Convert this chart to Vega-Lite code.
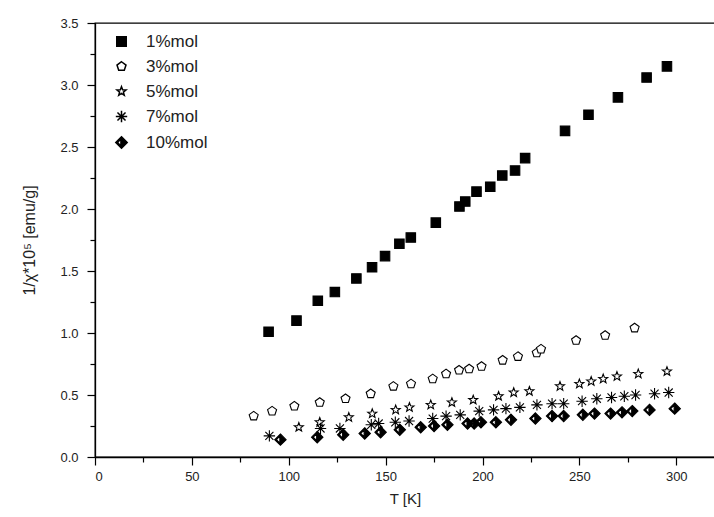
{
  "$schema": "https://vega.github.io/schema/vega-lite/v6.json",
  "autosize": {"type": "none"},
  "padding": {"left": 95, "top": 23, "right": 0, "bottom": 60},
  "width": 620,
  "height": 434,
  "background": "white",
  "config": {
    "view": {"stroke": "black", "strokeWidth": 1.3},
    "font": "Liberation Sans",
    "axis": {
      "tickSize": 8, "domainColor": "black", "domainWidth": 1.3, "tickColor": "black", "tickWidth": 1.2,
      "labelColor": "#222", "titleColor": "#222", "labelFont": "Liberation Sans", "titleFont": "Liberation Sans",
      "labelFontSize": 13, "titleFontSize": 15, "titleFontWeight": "normal", "grid": false, "labelOverlap": false
    },
    "style": {"minorTicks": {"tickSize": 5}}
  },
  "datasets": {
    "pts": [
      {"s": "1%mol", "T": 89.6, "v": 1.01}, {"s": "1%mol", "T": 104, "v": 1.10}, {"s": "1%mol", "T": 115, "v": 1.26},
      {"s": "1%mol", "T": 123.8, "v": 1.33}, {"s": "1%mol", "T": 134.9, "v": 1.44}, {"s": "1%mol", "T": 143, "v": 1.53},
      {"s": "1%mol", "T": 149.7, "v": 1.62}, {"s": "1%mol", "T": 157.1, "v": 1.72}, {"s": "1%mol", "T": 163, "v": 1.77},
      {"s": "1%mol", "T": 175.9, "v": 1.89}, {"s": "1%mol", "T": 188.1, "v": 2.02}, {"s": "1%mol", "T": 191.1, "v": 2.06},
      {"s": "1%mol", "T": 196.9, "v": 2.14}, {"s": "1%mol", "T": 204, "v": 2.18}, {"s": "1%mol", "T": 210.2, "v": 2.27},
      {"s": "1%mol", "T": 216.8, "v": 2.31}, {"s": "1%mol", "T": 222, "v": 2.41}, {"s": "1%mol", "T": 242.6, "v": 2.63},
      {"s": "1%mol", "T": 254.7, "v": 2.76}, {"s": "1%mol", "T": 269.9, "v": 2.90}, {"s": "1%mol", "T": 284.7, "v": 3.06},
      {"s": "1%mol", "T": 295.2, "v": 3.15},
      {"s": "3%mol", "T": 81.9, "v": 0.33}, {"s": "3%mol", "T": 91.4, "v": 0.37}, {"s": "3%mol", "T": 102.9, "v": 0.41},
      {"s": "3%mol", "T": 116, "v": 0.44}, {"s": "3%mol", "T": 129.3, "v": 0.47}, {"s": "3%mol", "T": 142.3, "v": 0.51},
      {"s": "3%mol", "T": 154, "v": 0.57}, {"s": "3%mol", "T": 163.1, "v": 0.59}, {"s": "3%mol", "T": 174.3, "v": 0.63},
      {"s": "3%mol", "T": 181.2, "v": 0.67}, {"s": "3%mol", "T": 187.9, "v": 0.70}, {"s": "3%mol", "T": 193.1, "v": 0.71},
      {"s": "3%mol", "T": 199.5, "v": 0.73}, {"s": "3%mol", "T": 210.4, "v": 0.78}, {"s": "3%mol", "T": 218.3, "v": 0.81},
      {"s": "3%mol", "T": 228, "v": 0.84}, {"s": "3%mol", "T": 230.2, "v": 0.87}, {"s": "3%mol", "T": 248.3, "v": 0.94},
      {"s": "3%mol", "T": 263.3, "v": 0.98}, {"s": "3%mol", "T": 278.5, "v": 1.04},
      {"s": "5%mol", "T": 105.2, "v": 0.24}, {"s": "5%mol", "T": 116, "v": 0.28}, {"s": "5%mol", "T": 131, "v": 0.32},
      {"s": "5%mol", "T": 143.1, "v": 0.35}, {"s": "5%mol", "T": 155.2, "v": 0.38}, {"s": "5%mol", "T": 162.3, "v": 0.40},
      {"s": "5%mol", "T": 173.3, "v": 0.42}, {"s": "5%mol", "T": 184.2, "v": 0.44}, {"s": "5%mol", "T": 195.2, "v": 0.46},
      {"s": "5%mol", "T": 208.3, "v": 0.49}, {"s": "5%mol", "T": 216.1, "v": 0.52}, {"s": "5%mol", "T": 224.2, "v": 0.53},
      {"s": "5%mol", "T": 240, "v": 0.57}, {"s": "5%mol", "T": 250, "v": 0.59}, {"s": "5%mol", "T": 256.1, "v": 0.61},
      {"s": "5%mol", "T": 262.3, "v": 0.63}, {"s": "5%mol", "T": 269.4, "v": 0.65}, {"s": "5%mol", "T": 280.4, "v": 0.67},
      {"s": "5%mol", "T": 295.2, "v": 0.69},
      {"s": "7%mol", "T": 90, "v": 0.17}, {"s": "7%mol", "T": 116.4, "v": 0.23}, {"s": "7%mol", "T": 126.4, "v": 0.23},
      {"s": "7%mol", "T": 142.6, "v": 0.26}, {"s": "7%mol", "T": 146.4, "v": 0.27}, {"s": "7%mol", "T": 155, "v": 0.28},
      {"s": "7%mol", "T": 162.1, "v": 0.29}, {"s": "7%mol", "T": 174.3, "v": 0.31}, {"s": "7%mol", "T": 181.2, "v": 0.33},
      {"s": "7%mol", "T": 188.5, "v": 0.34}, {"s": "7%mol", "T": 198.3, "v": 0.37}, {"s": "7%mol", "T": 205.7, "v": 0.38},
      {"s": "7%mol", "T": 212.1, "v": 0.39}, {"s": "7%mol", "T": 219.3, "v": 0.40}, {"s": "7%mol", "T": 228.1, "v": 0.42},
      {"s": "7%mol", "T": 235.9, "v": 0.43}, {"s": "7%mol", "T": 241.9, "v": 0.43}, {"s": "7%mol", "T": 251.4, "v": 0.45},
      {"s": "7%mol", "T": 259, "v": 0.47}, {"s": "7%mol", "T": 266.6, "v": 0.48}, {"s": "7%mol", "T": 273.2, "v": 0.49},
      {"s": "7%mol", "T": 279, "v": 0.50}, {"s": "7%mol", "T": 288.8, "v": 0.51}, {"s": "7%mol", "T": 296.1, "v": 0.52},
      {"s": "10%mol", "T": 95.7, "v": 0.14}, {"s": "10%mol", "T": 114.7, "v": 0.16}, {"s": "10%mol", "T": 128.1, "v": 0.18},
      {"s": "10%mol", "T": 139.2, "v": 0.19}, {"s": "10%mol", "T": 147.4, "v": 0.20}, {"s": "10%mol", "T": 157.3, "v": 0.22},
      {"s": "10%mol", "T": 168.1, "v": 0.24}, {"s": "10%mol", "T": 175, "v": 0.25}, {"s": "10%mol", "T": 181.9, "v": 0.26},
      {"s": "10%mol", "T": 192.3, "v": 0.27}, {"s": "10%mol", "T": 195.7, "v": 0.27}, {"s": "10%mol", "T": 199.2, "v": 0.28},
      {"s": "10%mol", "T": 206.9, "v": 0.28}, {"s": "10%mol", "T": 214.7, "v": 0.30}, {"s": "10%mol", "T": 227.3, "v": 0.31},
      {"s": "10%mol", "T": 235.9, "v": 0.33}, {"s": "10%mol", "T": 241.9, "v": 0.33}, {"s": "10%mol", "T": 251.8, "v": 0.34},
      {"s": "10%mol", "T": 257.8, "v": 0.35}, {"s": "10%mol", "T": 266.1, "v": 0.35}, {"s": "10%mol", "T": 272, "v": 0.36},
      {"s": "10%mol", "T": 277.3, "v": 0.37}, {"s": "10%mol", "T": 286.2, "v": 0.38}, {"s": "10%mol", "T": 299.2, "v": 0.39}
    ]
  },
  "data": {"name": "pts"},
  "resolve": {"axis": {"x": "independent", "y": "independent"}},
  "layer": [
    {
      "mark": {"type": "point", "filled": true, "opacity": 0},
      "encoding": {
        "x": {
          "field": "T", "type": "quantitative",
          "scale": {"domain": [0, 320], "nice": false, "zero": false},
          "axis": {"orient": "bottom", "style": "minorTicks", "title": null, "labels": false, "domain": false,
                   "values": [25, 75, 125, 175, 225, 275]}
        },
        "y": {
          "field": "v", "type": "quantitative",
          "scale": {"domain": [0, 3.5], "nice": false},
          "axis": {"orient": "left", "style": "minorTicks", "title": null, "labels": false, "domain": false,
                   "values": [0.25, 0.75, 1.25, 1.75, 2.25, 2.75, 3.25]}
        }
      }
    },
    {
      "mark": {"type": "point", "filled": true, "stroke": "black", "strokeWidth": 1.1, "size": 90, "opacity": 1},
      "encoding": {
        "x": {
          "field": "T", "type": "quantitative",
          "axis": {"orient": "bottom", "title": "T [K]", "values": [0, 50, 100, 150, 200, 250, 300],
                   "labelPadding": 5, "titlePadding": 8}
        },
        "y": {
          "field": "v", "type": "quantitative",
          "axis": {"orient": "left", "title": "1/χ*10⁵ [emu/g]", "format": ".1f", "titleFontSize": 16,
                   "values": [0, 0.5, 1, 1.5, 2, 2.5, 3, 3.5], "labelPadding": 9, "titlePadding": 22}
        },
        "shape": {
          "field": "s", "type": "nominal",
          "scale": {
            "domain": ["1%mol", "3%mol", "5%mol", "7%mol", "10%mol"],
            "range": [
              "square",
              "M0,-1L0.951,-0.309L0.588,0.809L-0.588,0.809L-0.951,-0.309Z",
              "M0,-1L0.247,-0.34L0.951,-0.309L0.399,0.13L0.588,0.809L0,0.42L-0.588,0.809L-0.399,0.13L-0.951,-0.309L-0.247,-0.34Z",
              "M-1.2,0L1.2,0M0,-1.2L0,1.2M-0.85,-0.85L0.85,0.85M-0.85,0.85L0.85,-0.85",
              "M0,-1.2L1.2,0L0,1.2L-1.2,0ZM-0.12,-0.72L-0.84,0L-0.12,0.72Z"
            ]
          },
          "legend": {
            "title": null, "orient": "none", "legendX": 18, "legendY": 10,
            "labelFontSize": 17, "labelFont": "Liberation Sans", "labelColor": "#222",
            "rowPadding": 7, "labelOffset": 16, "symbolSize": 90,
            "encode": {"symbols": {"update": {"stroke": {"value": "black"}, "strokeWidth": {"value": 1.1}}}}
          }
        },
        "fill": {
          "field": "s", "type": "nominal",
          "scale": {"domain": ["1%mol", "3%mol", "5%mol", "7%mol", "10%mol"], "range": ["black", "white", "white", "white", "black"]},
          "legend": {
            "title": null, "orient": "none", "legendX": 18, "legendY": 10,
            "labelFontSize": 17, "labelFont": "Liberation Sans", "labelColor": "#222",
            "rowPadding": 7, "labelOffset": 16, "symbolSize": 90,
            "encode": {"symbols": {"update": {"stroke": {"value": "black"}, "strokeWidth": {"value": 1.1}}}}
          }
        }
      }
    }
  ]
}
